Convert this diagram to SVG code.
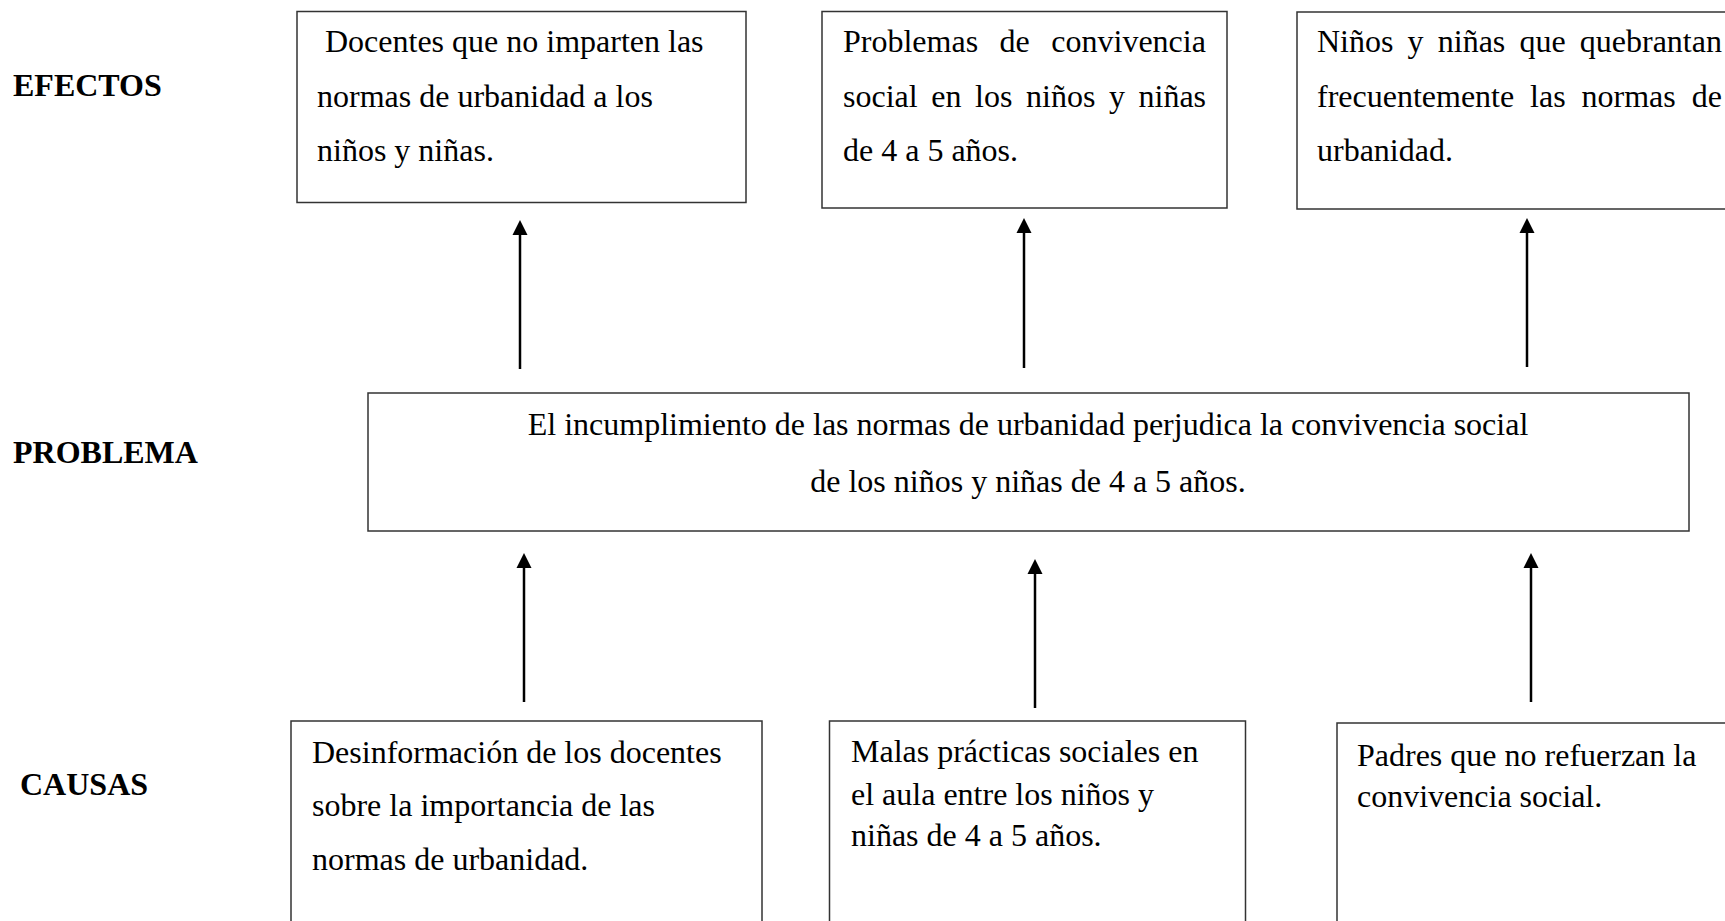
<svg xmlns="http://www.w3.org/2000/svg" width="1725" height="921" viewBox="0 0 1725 921">
<style>
.box{fill:#fff;stroke:#333;stroke-width:1.5}
.t{font-family:"Liberation Serif","Times New Roman",serif;font-size:32px;fill:#000}
.lbl{font-family:"Liberation Serif","Times New Roman",serif;font-size:32px;font-weight:bold;fill:#000}
.arr{stroke:#000;stroke-width:2.5;fill:none;marker-end:url(#ah)}
</style>
<defs>
<marker id="ah" markerUnits="userSpaceOnUse" markerWidth="16" markerHeight="16" refX="0" refY="7.5" orient="auto" viewBox="0 0 16 15">
<path d="M0,0 L15,7.5 L0,15 Z" fill="#000"/>
</marker>
</defs>
<rect width="1725" height="921" fill="#fff"/>
<g id="labels">
<text class="lbl" x="13" y="96">EFECTOS</text>
<text class="lbl" x="13" y="463">PROBLEMA</text>
<text class="lbl" x="20" y="795">CAUSAS</text>
</g>
<g id="efecto1">
<rect class="box" x="297" y="11.5" width="449" height="191"/>
<text class="t" x="325" y="52">Docentes que no imparten las</text>
<text class="t" x="317" y="107">normas de urbanidad a los</text>
<text class="t" x="317" y="161">niños y niñas.</text>
</g>
<g id="efecto2">
<rect class="box" x="822" y="11.5" width="405" height="196.5"/>
<text class="t" x="843" y="52" word-spacing="13.5">Problemas de convivencia</text>
<text class="t" x="843" y="107" word-spacing="5.6">social en los niños y niñas</text>
<text class="t" x="843" y="161">de 4 a 5 años.</text>
</g>
<g id="efecto3">
<rect class="box" x="1297" y="12" width="450" height="197"/>
<text class="t" x="1317" y="52" word-spacing="6.15">Niños y niñas que quebrantan</text>
<text class="t" x="1317" y="107" word-spacing="7.9">frecuentemente las normas de</text>
<text class="t" x="1317" y="161">urbanidad.</text>
</g>
<g id="problema">
<rect class="box" x="368" y="393" width="1321" height="138"/>
<text class="t" x="1028" y="435" text-anchor="middle">El incumplimiento de las normas de urbanidad perjudica la convivencia social</text>
<text class="t" x="1028" y="492" text-anchor="middle">de los niños y niñas de 4 a 5 años.</text>
</g>
<g id="causa1">
<rect class="box" x="291" y="721" width="471" height="220"/>
<text class="t" x="312" y="763">Desinformación de los docentes</text>
<text class="t" x="312" y="816">sobre la importancia de las</text>
<text class="t" x="312" y="870">normas de urbanidad.</text>
</g>
<g id="causa2">
<rect class="box" x="829.5" y="721" width="416" height="220"/>
<text class="t" x="851" y="762">Malas prácticas sociales en</text>
<text class="t" x="851" y="805">el aula entre los niños y</text>
<text class="t" x="851" y="846">niñas de 4 a 5 años.</text>
</g>
<g id="causa3">
<rect class="box" x="1337" y="723" width="420" height="220"/>
<text class="t" x="1357" y="766">Padres que no refuerzan la</text>
<text class="t" x="1357" y="807">convivencia social.</text>
</g>
<g id="connectors">
<line class="arr" x1="520" y1="369" x2="520" y2="235"/>
<line class="arr" x1="1024" y1="368" x2="1024" y2="233"/>
<line class="arr" x1="1527" y1="367" x2="1527" y2="233"/>
<line class="arr" x1="524" y1="702" x2="524" y2="568"/>
<line class="arr" x1="1035" y1="708" x2="1035" y2="574"/>
<line class="arr" x1="1531" y1="702" x2="1531" y2="568"/>
</g>
</svg>
